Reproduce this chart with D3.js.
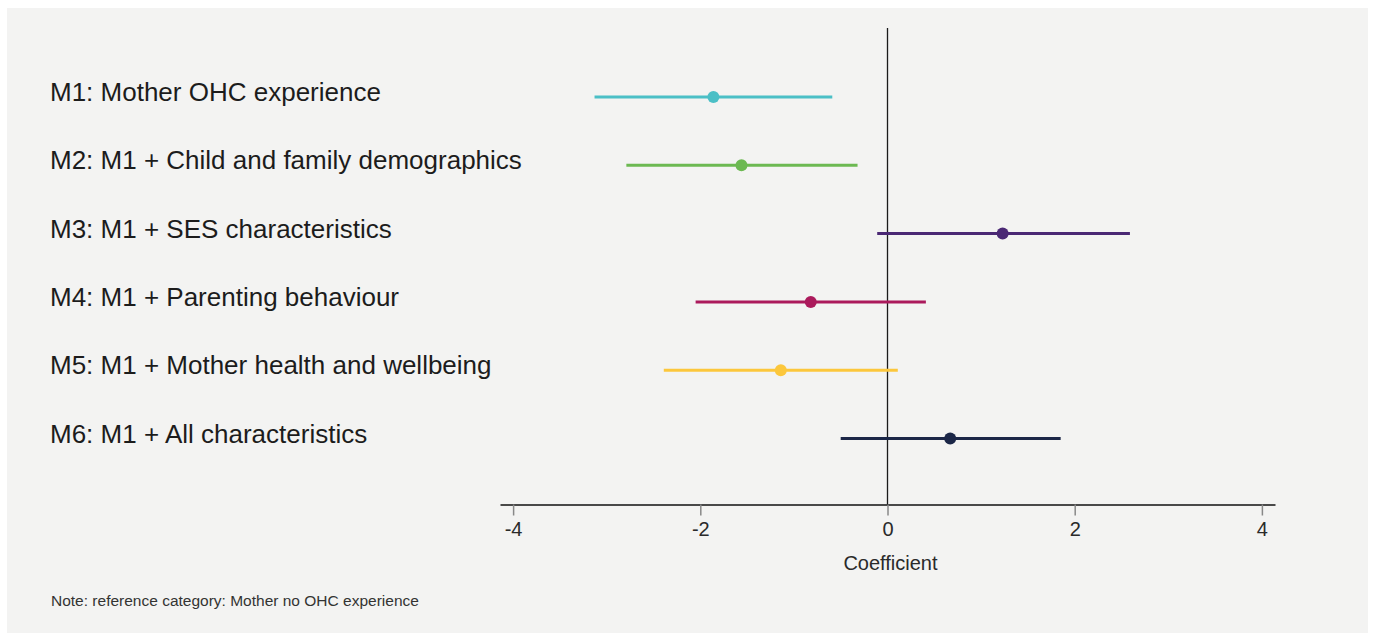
<!DOCTYPE html>
<html>
<head>
<meta charset="utf-8">
<script src="https://cdn.jsdelivr.net/npm/d3@7"></script>
<style>
  html, body { margin: 0; padding: 0; background: #ffffff; }
  svg { display: block; font-family: "Liberation Sans", Arial, Helvetica, sans-serif; }
</style>
</head>
<body>
<svg id="chart" width="1373" height="635"></svg>
<script>
// Model labels, point estimates and confidence bounds
const models = [
  "M1: Mother OHC experience",
  "M2: M1 + Child and family demographics",
  "M3: M1 + SES characteristics",
  "M4: M1 + Parenting behaviour",
  "M5: M1 + Mother health and wellbeing",
  "M6: M1 + All characteristics"
];
const estimates = [-1.86, -1.56, 1.23, -0.82, -1.14, 0.67];
const lowerCI   = [-3.13, -2.79, -0.11, -2.05, -2.39, -0.50];
const upperCI   = [-0.59, -0.32, 2.59, 0.41, 0.11, 1.85];
const colors    = ["#4bbfc6", "#6cb952", "#4a2874", "#ab1a5c", "#fcc73c", "#1b2647"];
const xTicks    = [-4, -2, 0, 2, 4];

const svg = d3.select("#chart");

// panel background
svg.append("rect")
  .attr("x", 7).attr("y", 8)
  .attr("width", 1361).attr("height", 625)
  .attr("fill", "#f3f3f2");

const x = d3.scaleLinear().domain([-4.14, 4.14]).range([500, 1275]);
const y = d3.scalePoint().domain(models).range([97, 438.5]);

// x axis
const axisY = 504.5;
const axis = svg.append("g")
  .attr("transform", `translate(0,${axisY})`)
  .call(d3.axisBottom(x).tickValues(xTicks).tickSize(11).tickPadding(6).tickSizeOuter(0)
    .tickFormat(d3.format("d")));
axis.select(".domain").attr("stroke", "#111").attr("stroke-width", 1.5);
axis.selectAll(".tick line").attr("stroke", "#888").attr("stroke-width", 1.5);
axis.selectAll(".tick text")
  .attr("fill", "#2a2a2a")
  .attr("font-size", 20)
  .attr("font-family", "Liberation Sans, Arial, sans-serif")
  .text(d => d < 0 ? "-" + Math.abs(d) : d);

// zero reference line
svg.append("line")
  .attr("x1", x(0)).attr("x2", x(0))
  .attr("y1", 28).attr("y2", axisY)
  .attr("stroke", "#1a1a1a").attr("stroke-width", 1.3);

// axis title
svg.append("text")
  .attr("x", x(0) + 3).attr("y", 570)
  .attr("text-anchor", "middle")
  .attr("font-size", 20)
  .attr("fill", "#2a2a2a")
  .text("Coefficient");

// model labels
svg.selectAll("text.model")
  .data(models)
  .join("text")
  .attr("class", "model")
  .attr("x", 50)
  .attr("y", d => y(d) + 4)
  .attr("font-size", 26)
  .attr("fill", "#1c1c1c")
  .text(d => d);

// confidence intervals
svg.selectAll("line.ci")
  .data(models)
  .join("line")
  .attr("class", "ci")
  .attr("x1", (d, i) => x(lowerCI[i]))
  .attr("x2", (d, i) => x(upperCI[i]))
  .attr("y1", d => y(d)).attr("y2", d => y(d))
  .attr("stroke", (d, i) => colors[i])
  .attr("stroke-width", 3);

// point estimates
svg.selectAll("circle.est")
  .data(models)
  .join("circle")
  .attr("class", "est")
  .attr("cx", (d, i) => x(estimates[i]))
  .attr("cy", d => y(d))
  .attr("r", 6)
  .attr("fill", (d, i) => colors[i]);

// note
svg.append("text")
  .attr("x", 51).attr("y", 605.5)
  .attr("font-size", 15.5)
  .attr("fill", "#333")
  .text("Note: reference category: Mother no OHC experience");
</script>
</body>
</html>
